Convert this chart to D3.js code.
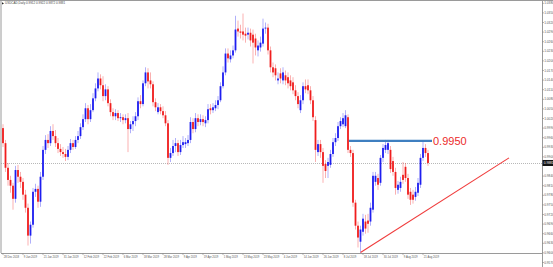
<!DOCTYPE html>
<html><head><meta charset="utf-8">
<script src="https://cdn.jsdelivr.net/npm/d3@7"></script>
<style>html,body{margin:0;padding:0;background:#fff;overflow:hidden}</style>
</head><body><svg id="c" width="553" height="267"></svg>
<script>
const symbolTitle = "USDCAD,Daily";
const opens = [
0.9990,0.9943,0.9866,0.9828,0.9810,0.9769,0.9859,0.9838,0.9822,0.9782,
0.9741,0.9654,0.9688,0.9791,0.9800,0.9760,0.9838,0.9922,0.9953,0.9943,
0.9981,0.9965,0.9943,0.9925,0.9915,0.9909,0.9900,0.9922,0.9943,0.9931,
0.9953,0.9965,0.9993,1.0018,1.0052,1.0018,1.0046,1.0083,1.0114,1.0145,
1.0124,1.0090,1.0111,1.0068,1.0040,1.0027,1.0037,1.0021,1.0024,1.0015,
1.0021,0.9987,1.0002,1.0012,1.0027,1.0074,1.0065,1.0130,1.0164,1.0139,
1.0127,1.0071,1.0040,1.0055,1.0043,1.0030,1.0005,0.9897,0.9912,0.9934,
0.9943,0.9915,0.9937,0.9940,0.9943,0.9953,1.0009,0.9987,1.0021,1.0009,
1.0018,1.0005,1.0015,1.0052,1.0046,1.0052,1.0062,1.0077,1.0121,1.0164,
1.0223,1.0205,1.0217,1.0233,1.0301,1.0292,1.0292,1.0285,1.0282,1.0288,
1.0282,1.0270,1.0233,1.0242,1.0254,1.0301,1.0304,1.0233,1.0180,1.0177,
1.0139,1.0161,1.0139,1.0155,1.0149,1.0139,1.0133,1.0108,1.0090,1.0046,
1.0077,1.0121,1.0124,1.0108,1.0077,1.0015,0.9915,0.9940,0.9915,0.9878,
0.9872,0.9875,0.9909,0.9946,0.9959,0.9996,1.0002,0.9996,1.0024,0.9922,
0.9912,0.9757,0.9685,0.9635,0.9666,0.9698,0.9701,0.9698,0.9735,0.9822,
0.9834,0.9819,0.9897,0.9922,0.9922,0.9922,0.9887,0.9853,0.9797,0.9803,
0.9844,0.9869,0.9834,0.9791,0.9782,0.9775,0.9788,0.9813,0.9897,0.9928,0.9912];
const highs = [
1.0002,0.9953,0.9881,0.9841,0.9819,0.9872,0.9875,0.9853,0.9834,0.9797,
0.9754,0.9698,0.9803,0.9816,0.9810,0.9853,0.9934,0.9968,0.9971,0.9996,
1.0002,0.9984,0.9959,0.9940,0.9931,0.9925,0.9934,0.9956,0.9953,0.9965,
0.9981,1.0005,1.0033,1.0068,1.0062,1.0065,1.0099,1.0130,1.0164,1.0158,
1.0152,1.0127,1.0121,1.0080,1.0052,1.0049,1.0046,1.0037,1.0033,1.0033,
1.0037,1.0012,1.0027,1.0040,1.0086,1.0093,1.0139,1.0180,1.0177,1.0164,
1.0136,1.0083,1.0068,1.0065,1.0058,1.0043,1.0015,0.9928,0.9953,0.9959,
0.9953,0.9953,0.9965,0.9959,0.9968,1.0024,1.0021,1.0037,1.0033,1.0033,
1.0030,1.0027,1.0065,1.0065,1.0068,1.0077,1.0090,1.0133,1.0183,1.0239,
1.0239,1.0233,1.0248,1.0341,1.0326,1.0313,1.0348,1.0304,1.0304,1.0301,
1.0298,1.0285,1.0264,1.0276,1.0332,1.0320,1.0316,1.0245,1.0195,1.0189,
1.0164,1.0177,1.0180,1.0170,1.0164,1.0155,1.0149,1.0124,1.0102,1.0093,
1.0133,1.0142,1.0142,1.0121,1.0090,1.0027,0.9953,0.9953,0.9928,0.9890,
0.9897,0.9922,0.9959,0.9974,1.0009,1.0024,1.0037,1.0046,1.0033,0.9934,
0.9922,0.9766,0.9698,0.9685,0.9722,0.9719,0.9722,0.9757,0.9853,0.9853,
0.9847,0.9906,0.9940,0.9953,0.9953,0.9934,0.9900,0.9866,0.9825,0.9838,
0.9884,0.9881,0.9847,0.9803,0.9797,0.9806,0.9834,0.9909,0.9950,0.9940,0.9922];
const lows = [
0.9931,0.9853,0.9810,0.9788,0.9735,0.9757,0.9819,0.9803,0.9766,0.9726,
0.9623,0.9629,0.9679,0.9775,0.9741,0.9744,0.9828,0.9909,0.9928,0.9934,
0.9953,0.9931,0.9912,0.9903,0.9897,0.9887,0.9890,0.9912,0.9922,0.9925,
0.9943,0.9956,0.9984,1.0009,1.0002,1.0009,1.0040,1.0074,1.0105,1.0111,
1.0074,1.0077,1.0058,1.0027,1.0015,1.0015,1.0012,1.0009,1.0002,1.0005,
0.9915,0.9974,0.9981,0.9996,1.0015,1.0052,1.0058,1.0121,1.0114,1.0114,
1.0058,1.0043,1.0033,1.0033,1.0021,0.9996,0.9875,0.9884,0.9903,0.9915,
0.9903,0.9906,0.9928,0.9928,0.9934,0.9943,0.9974,0.9977,0.9996,0.9999,
0.9996,0.9993,1.0005,1.0033,1.0037,1.0043,1.0049,1.0071,1.0114,1.0155,
1.0195,1.0195,1.0208,1.0226,1.0276,1.0270,1.0264,1.0257,1.0267,1.0245,
1.0192,1.0217,1.0214,1.0229,1.0245,1.0285,1.0220,1.0164,1.0149,1.0139,
1.0127,1.0130,1.0127,1.0124,1.0114,1.0108,1.0096,1.0077,1.0052,1.0037,
1.0065,1.0099,1.0096,1.0065,1.0012,0.9884,0.9903,0.9897,0.9819,0.9834,
0.9834,0.9866,0.9900,0.9934,0.9950,0.9987,0.9993,0.9990,0.9912,0.9900,
0.9744,0.9673,0.9617,0.9601,0.9654,0.9660,0.9663,0.9685,0.9726,0.9810,
0.9797,0.9810,0.9884,0.9912,0.9909,0.9850,0.9841,0.9782,0.9785,0.9791,
0.9816,0.9822,0.9769,0.9750,0.9754,0.9763,0.9778,0.9803,0.9887,0.9900,0.9872];
const closes = [
0.9943,0.9866,0.9828,0.9810,0.9769,0.9859,0.9838,0.9822,0.9782,0.9741,
0.9654,0.9688,0.9791,0.9800,0.9760,0.9838,0.9922,0.9953,0.9943,0.9981,
0.9965,0.9943,0.9925,0.9915,0.9909,0.9900,0.9922,0.9943,0.9931,0.9953,
0.9965,0.9993,1.0018,1.0052,1.0018,1.0046,1.0083,1.0114,1.0145,1.0124,
1.0090,1.0111,1.0068,1.0040,1.0027,1.0037,1.0021,1.0024,1.0015,1.0021,
0.9987,1.0002,1.0012,1.0027,1.0074,1.0065,1.0130,1.0164,1.0136,1.0127,
1.0071,1.0055,1.0055,1.0043,1.0030,1.0005,0.9897,0.9912,0.9934,0.9943,
0.9915,0.9937,0.9946,0.9946,0.9953,1.0009,0.9987,1.0021,1.0009,1.0018,
1.0009,1.0015,1.0049,1.0046,1.0055,1.0062,1.0077,1.0121,1.0164,1.0223,
1.0208,1.0217,1.0233,1.0298,1.0292,1.0288,1.0282,1.0279,1.0288,1.0264,
1.0257,1.0242,1.0248,1.0257,1.0301,1.0304,1.0233,1.0180,1.0164,1.0155,
1.0145,1.0145,1.0164,1.0139,1.0130,1.0121,1.0108,1.0090,1.0065,1.0077,
1.0121,1.0111,1.0108,1.0077,1.0024,0.9922,0.9940,0.9915,0.9872,0.9856,
0.9884,0.9909,0.9946,0.9959,0.9996,1.0012,1.0021,1.0030,0.9922,0.9912,
0.9757,0.9685,0.9648,0.9673,0.9707,0.9676,0.9691,0.9741,0.9841,0.9841,
0.9813,0.9897,0.9928,0.9937,0.9943,0.9862,0.9853,0.9803,0.9813,0.9822,
0.9828,0.9834,0.9782,0.9766,0.9766,0.9791,0.9819,0.9897,0.9928,0.9912,0.9881];
const priceTickLabels = ["1.0380","1.0350","1.0320","1.0290","1.0260","1.0230","1.0200","1.0170","1.0140","1.0110",
"1.0080","1.0050","1.0020","0.9990","0.9960","0.9930","0.9900","0.9870","0.9840","0.9810",
"0.9780","0.9750","0.9720","0.9690","0.9660","0.9630","0.9600","0.9570"];
const dateTickLabels = ["28 Dec 2018","9 Jan 2019","21 Jan 2019","31 Jan 2019","12 Feb 2019","22 Feb 2019",
"6 Mar 2019","18 Mar 2019","28 Mar 2019","9 Apr 2019","19 Apr 2019","1 May 2019","13 May 2019",
"23 May 2019","4 Jun 2019","14 Jun 2019","26 Jun 2019","8 Jul 2019","18 Jul 2019","30 Jul 2019",
"9 Aug 2019","21 Aug 2019"];
const dateTickBars = [0,8,16,24,32,40,48,56,64,72,80,88,96,104,112,120,128,136,144,152,160,168];
const resistance = {price: 0.9950, fromBar: 138.4, toBar: 171.6, label: "0.9950"};
const trendStart = {bar: 143, price: 0.9601};
const trendEnd = {bar: 202.4, price: 0.9897};

const svg = d3.select("#c");
const frame = {left: 1, top: 0.5, right: 542, bottom: 253};
const x = d3.scaleLinear().domain([0, 170]).range([3, 428]);
const y = d3.scaleLinear().domain([0.9600, 1.0380]).range([252.9, 3.3]);
const BLUE = "#1e1ef0", RED = "#f01e1e";
const font = "'Liberation Sans', Arial, sans-serif";

svg.append("rect").attr("width", 553).attr("height", 267).attr("fill", "#fff");

const data = opens.map((o, i) => ({i, o, h: highs[i], l: lows[i], c: closes[i]}));
const last = data[data.length - 1];

// current price dotted line
svg.append("line").attr("x1", frame.left).attr("x2", frame.right)
  .attr("y1", Math.round(y(last.c)) + 0.5).attr("y2", Math.round(y(last.c)) + 0.5)
  .attr("stroke", "#b8b8b8").attr("stroke-width", 1).attr("stroke-dasharray", "1,1");

const g = svg.append("g");
g.selectAll("line.wick").data(data).join("line").attr("class", "wick")
  .attr("x1", d => x(d.i)).attr("x2", d => x(d.i))
  .attr("y1", d => y(d.h)).attr("y2", d => y(d.l))
  .attr("stroke", d => d.c >= d.o ? BLUE : RED).attr("stroke-opacity", 0.35).attr("stroke-width", 1);
g.selectAll("rect.body").data(data).join("rect").attr("class", "body")
  .attr("x", d => x(d.i) - 0.9).attr("width", 1.8)
  .attr("y", d => y(Math.max(d.o, d.c)))
  .attr("height", d => Math.max(0.8, Math.abs(y(d.o) - y(d.c))))
  .attr("fill", d => d.c >= d.o ? BLUE : RED);

// resistance line
svg.append("line").attr("x1", x(resistance.fromBar)).attr("x2", x(resistance.toBar))
  .attr("y1", y(resistance.price)).attr("y2", y(resistance.price))
  .attr("stroke", "#3f7fc0").attr("stroke-width", 2.4);
svg.append("text").attr("x", x(resistance.toBar) + 1).attr("y", y(resistance.price))
  .attr("dy", "0.36em").attr("font-family", font).attr("font-size", 11)
  .attr("fill", "#ec2a2a").text(resistance.label);

// trend line
svg.append("line").attr("x1", x(trendStart.bar)).attr("y1", y(trendStart.price))
  .attr("x2", x(trendEnd.bar)).attr("y2", y(trendEnd.price))
  .attr("stroke", "#f03c3c").attr("stroke-width", 1.1);

// frame
svg.append("line").attr("x1", 0).attr("x2", 553).attr("y1", frame.top).attr("y2", frame.top).attr("stroke", "#9a9a9a");
svg.append("line").attr("x1", frame.left).attr("x2", frame.left).attr("y1", frame.top).attr("y2", frame.bottom).attr("stroke", "#9a9a9a");
svg.append("line").attr("x1", frame.left).attr("x2", frame.right).attr("y1", frame.bottom + 0.5).attr("y2", frame.bottom + 0.5).attr("stroke", "#9a9a9a");
svg.append("line").attr("x1", frame.right + 0.5).attr("x2", frame.right + 0.5).attr("y1", frame.top).attr("y2", 267).attr("stroke", "#9a9a9a");

// price axis
const pt = svg.append("g").attr("font-family", font).attr("font-size", 3.2).attr("fill", "#555");
priceTickLabels.forEach(lbl => {
  const yy = y(+lbl);
  if (Math.abs(yy - y(last.c)) < 5) return;
  pt.append("line").attr("x1", frame.right).attr("x2", frame.right + 2).attr("y1", yy).attr("y2", yy).attr("stroke", "#888").attr("stroke-width", 0.6);
  pt.append("text").attr("x", frame.right + 2.2).attr("y", yy).attr("dy", "0.35em").text(lbl);
});
// current price box
svg.append("rect").attr("x", frame.right + 0.5).attr("y", y(last.c) - 3).attr("width", 11).attr("height", 6).attr("fill", "#111");
svg.append("text").attr("x", frame.right + 1.8).attr("y", y(last.c)).attr("dy", "0.35em")
  .attr("font-family", font).attr("font-size", 3.2).attr("fill", "#fff").text(d3.format(".4f")(last.c));

// date axis
const dt = svg.append("g").attr("font-family", font).attr("font-size", 2.7).attr("fill", "#555");
dateTickBars.forEach((b, k) => {
  const xx = x(b);
  dt.append("line").attr("x1", xx).attr("x2", xx).attr("y1", frame.bottom).attr("y2", frame.bottom + 2).attr("stroke", "#888").attr("stroke-width", 0.6);
  dt.append("text").attr("x", xx + 0.8).attr("y", frame.bottom + 3.6).attr("dy", "0.35em").text(dateTickLabels[k]);
});

// title
svg.append("path").attr("d", "M2,2.2 L4,3.4 L2,4.6 Z").attr("fill", "#222");
svg.append("text").attr("x", 5).attr("y", 3.4).attr("dy", "0.35em").attr("font-family", font)
  .attr("font-size", 3).attr("fill", "#444")
  .text(symbolTitle + "  " + [last.o, last.h, last.l, last.c].map(d3.format(".4f")).join(" "));
</script></body></html>
